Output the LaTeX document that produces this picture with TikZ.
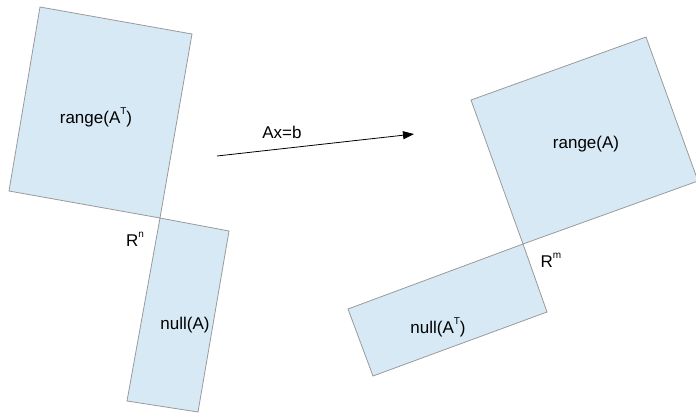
\documentclass[tikz,border=0pt]{standalone}
\usepackage{fontspec}
\setmainfont{Liberation Sans}
\usetikzlibrary{arrows.meta}
\definecolor{subfill}{HTML}{D6E9F5}
\definecolor{subedge}{HTML}{9A9A9A}
\tikzset{
  subspace/.style={fill=subfill, draw=subedge, line width=0.8pt, line join=miter},
  lbl/.style={inner sep=0pt, font=\fontsize{17}{20}\selectfont},
  sup/.style={},
}
\newcommand{\supt}[1]{\raisebox{0.55em}{\fontsize{10}{10}\selectfont #1}}
\begin{document}
\begin{tikzpicture}[x=1pt, y=-1pt]
  \useasboundingbox (0,0) rectangle (696,413);
  \begin{scope}
    \clip (0,0) rectangle (696,413);
    % domain R^n: row space and null space
    \path[subspace] (40,7) -- (192,34) -- (160,218) -- (9,191) -- cycle;
    \path[subspace] (160,218) -- (229,231) -- (198,412) -- (127,401) -- cycle;
    % codomain R^m: column space and left null space
    \path[subspace] (471,100) -- (646,37) -- (698,181) -- (523,244) -- cycle;
    \path[subspace] (523,244) -- (547,312) -- (373,376) -- (348,309) -- cycle;
  \end{scope}

  \node[lbl] (rangeAT) at (96,117) {range(A\supt{T})};
  \node[lbl] (Rn) at (135,239) {R\supt{n}};
  \node[lbl] (nullA) at (185,325) {null(A)};
  \node[lbl] (rangeA) at (586,144) {range(A)};
  \node[lbl] (Rm) at (551,260) {R\supt{m}};
  \node[lbl] (nullAT) at (438,327) {null(A\supt{T})};
  \node[lbl] (map) at (282,132) {Ax=b};

  \coordinate (src) at (217,156);
  \coordinate (dst) at (414,134);
  \draw[line width=0.8pt, -{Triangle[length=11pt,width=8pt]}] (src) -- (dst);
\end{tikzpicture}
\end{document}
